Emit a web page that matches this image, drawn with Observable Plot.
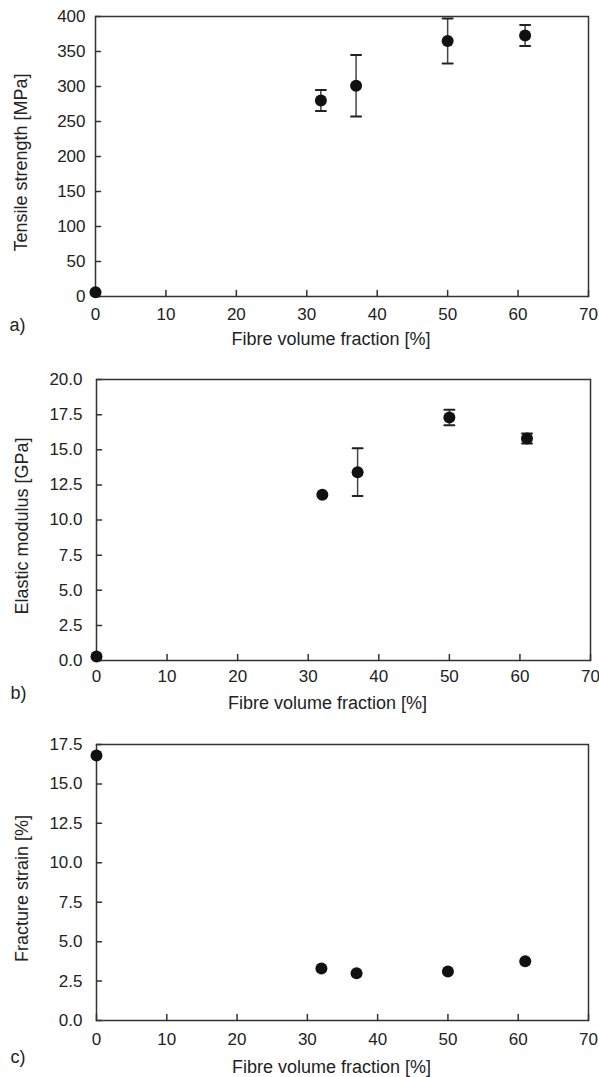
<!DOCTYPE html>
<html><head><meta charset="utf-8">
<script src="https://cdn.jsdelivr.net/npm/d3@7"></script>
<script src="https://cdn.jsdelivr.net/npm/@observablehq/plot@0.6"></script>
<style>body{margin:0;background:#fff} #chart svg{display:block}</style>
</head><body><div id="chart"></div>
<script>
const fibreFraction = [0, 32, 37, 50, 61];
const tensileStrength = [6, 280, 301, 365, 373];
const tensileError = [0, 15, 44, 32, 15];
const elasticModulus = [0.28, 11.8, 13.4, 17.3, 15.8];
const modulusError = [0, 0, 1.7, 0.55, 0.35];
const fractureStrain = [16.8, 3.3, 3.0, 3.1, 3.75];
const fractureError = [0, 0, 0, 0, 0];
const xTicks = [0, 10, 20, 30, 40, 50, 60, 70];
const tensileTicks = [0, 50, 100, 150, 200, 250, 300, 350, 400];
const modulusTicks = [0, 2.5, 5, 7.5, 10, 12.5, 15, 17.5, 20];
const strainTicks = [0, 2.5, 5, 7.5, 10, 12.5, 15, 17.5];
const xLabel = "Fibre volume fraction [%]";

const ink = "#222";
const font = "Liberation Sans, Arial, Helvetica, sans-serif";
const line = {draw(context, l) { context.moveTo(0, 0); context.lineTo(0, -l); }};

function panel(o) {
  const data = fibreFraction.map((x, i) => ({x, y: o.values[i], e: o.errors[i]}));
  const bars = data.filter(d => d.e > 0);
  const caps = bars.flatMap(d => [{x: d.x, y: d.y - d.e}, {x: d.x, y: d.y + d.e}]);
  return Plot.plot({
    width: 599,
    height: o.height,
    marginTop: o.marginTop,
    marginBottom: o.marginBottom,
    marginLeft: o.marginLeft,
    marginRight: o.marginRight,
    style: {fontFamily: font, fontSize: "17px", color: ink, background: "#fff"},
    x: {domain: [0, 70], label: null},
    y: {domain: o.yDomain, label: null},
    marks: [
      Plot.axisX(xTicks, {tickSize: 0, tickPadding: o.xPad, fontSize: 17, fill: ink}),
      Plot.axisY(o.yTicks, {tickSize: 0, tickPadding: o.yPad, tickFormat: o.yFormat, fontSize: 17, fill: ink}),
      Plot.vector(xTicks, {x: d => d, frameAnchor: "bottom", rotate: 0, length: 6, anchor: "start", shape: line, stroke: "#333", strokeWidth: 1.5}),
      Plot.vector(o.yTicks, {y: d => d, frameAnchor: "left", rotate: 90, length: 5, anchor: "start", shape: line, stroke: "#333", strokeWidth: 1.5}),
      Plot.frame({stroke: "#333", strokeWidth: 1.5}),
      Plot.ruleX(bars, {x: "x", y1: d => d.y - d.e, y2: d => d.y + d.e, stroke: "#444", strokeWidth: 1.5}),
      Plot.vector(caps, {x: "x", y: "y", rotate: 90, length: 10, anchor: "middle", shape: line, stroke: "#222", strokeWidth: 2}),
      Plot.dot(data, {x: "x", y: "y", r: 6, fill: "#111", stroke: "none"}),
      Plot.text([o.yLabel], {text: d => d, frameAnchor: "left", dx: -74, dy: 6, rotate: -90, textAnchor: "middle", lineAnchor: "middle", fontSize: 18, fill: ink}),
      Plot.text([xLabel], {text: d => d, frameAnchor: "bottom", dx: o.titleDx, dy: o.titleDy, textAnchor: "middle", lineAnchor: "middle", fontSize: 18, fill: ink}),
      Plot.text([o.tag], {text: d => d, frameAnchor: "bottom-left", dx: -86, dy: o.tagDy, textAnchor: "start", lineAnchor: "middle", fontSize: 18, fill: ink})
    ]
  });
}

const chart = document.getElementById("chart");
chart.append(panel({
  values: tensileStrength, errors: tensileError, yDomain: [0, 400], yTicks: tensileTicks,
  yFormat: d3.format("d"), yLabel: "Tensile strength [MPa]", tag: "a)",
  height: 355, marginTop: 16, marginBottom: 59, marginLeft: 95, marginRight: 11,
  xPad: 11, yPad: 10, titleDx: -11, titleDy: 43, tagDy: 29
}));
chart.append(panel({
  values: elasticModulus, errors: modulusError, yDomain: [0, 20], yTicks: modulusTicks,
  yFormat: d3.format(".1f"), yLabel: "Elastic modulus [GPa]", tag: "b)",
  height: 361, marginTop: 24, marginBottom: 56, marginLeft: 96, marginRight: 9,
  xPad: 9, yPad: 14, titleDx: -16, titleDy: 43, tagDy: 33
}));
chart.append(panel({
  values: fractureStrain, errors: fractureError, yDomain: [0, 17.5], yTicks: strainTicks,
  yFormat: d3.format(".1f"), yLabel: "Fracture strain [%]", tag: "c)",
  height: 361, marginTop: 28, marginBottom: 57, marginLeft: 96, marginRight: 11,
  xPad: 12, yPad: 14, titleDx: -11, titleDy: 47, tagDy: 37
}));
</script>
</body></html>
